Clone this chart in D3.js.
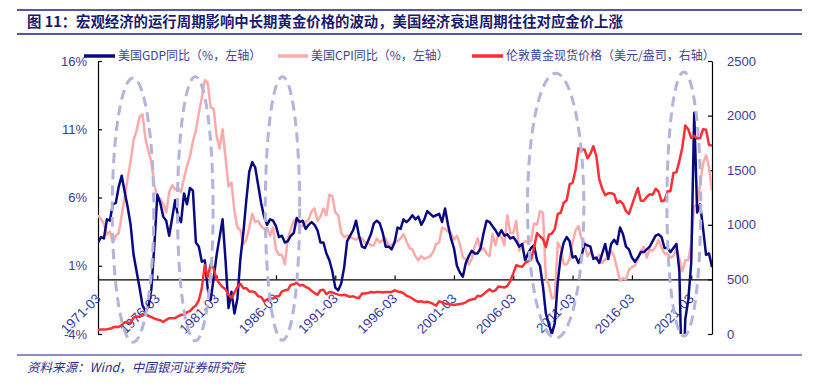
<!DOCTYPE html>
<html>
<head>
<meta charset="utf-8">
<script src="https://cdn.jsdelivr.net/npm/d3@7"></script>
<style>
  body { margin: 0; background: #fff; }
  svg { display: block; font-family: "Liberation Sans", Arial, sans-serif; }
</style>
</head>
<body>
<div id="chart"></div>
<script>
// quarterly data, 1971Q1 .. 2022Q4
const startYear = 1971;

// US real GDP YoY, %
const gdp = [
  2.7, 3.1, 3.0, 4.4,  4.3, 5.5, 5.6, 6.8,  7.6, 6.4, 5.3, 4.0,  1.8, 0.6, -0.6, -1.9,
  -2.3, -2.0, -0.7, 2.5,  6.2, 5.6, 4.6, 4.3,  3.2, 4.5, 5.8, 4.6,  4.2, 6.3, 5.5, 6.7,
  6.5, 2.7, 2.4, 1.3,  1.4, -0.7, -1.5, 0.1,  1.8, 3.1, 4.4, 1.4,  -2.1, -0.9, -2.5, -1.4,
  1.5, 3.4, 5.8, 7.9,  8.6, 8.2, 6.9, 5.6,  4.6, 4.0, 4.4, 4.3,  3.9, 3.1, 3.2, 2.7,
  2.8, 3.2, 3.4, 4.5,  4.2, 4.3, 3.7, 4.0,  4.2, 4.0, 3.6, 2.7,  2.7, 1.9, 1.4, 0.6,
  -0.6, -0.8, -0.3, 0.9,  2.8, 3.2, 3.6, 4.3,  3.2, 2.4, 2.3, 2.8,  3.3, 4.1, 4.3, 4.1,
  3.4, 2.4, 2.4, 2.2,  2.7, 3.8, 3.7, 4.4,  4.2, 4.4, 4.7, 4.4,  4.6, 4.0, 4.4, 5.0,
  4.8, 4.6, 4.7, 4.8,  4.2, 5.2, 4.0, 3.0,  2.3, 1.0, 0.5, 0.2,  1.2, 1.7, 2.1, 1.9,
  1.9, 2.3, 3.4, 4.3,  4.2, 3.9, 3.6, 3.2,  3.6, 3.2, 3.3, 3.0,  3.1, 2.8, 2.4, 2.6,
  1.4, 1.9, 2.3, 2.5,  1.4, 1.0, -0.5, -2.5,  -3.3, -4.0, -3.2, -0.2,  1.7, 2.7, 3.1, 2.8,
  1.6, 1.7, 1.2, 1.7,  2.6, 2.5, 2.4, 1.5,  1.6, 1.2, 1.9, 2.6,  1.5, 2.6, 2.9, 2.6,
  3.8, 3.3, 2.4, 2.2,  1.6, 1.3, 1.6, 2.0,  2.0, 2.2, 2.4, 2.8,  3.2, 3.3, 3.1, 2.3,
  2.3, 2.0, 2.3, 2.6,  0.6, -9.1, -2.9, -1.5,  1.2, 12.2, 4.9, 5.5,  3.7, 1.8, 1.9, 0.9
];

// US CPI YoY, %
const cpi = [
  4.7, 4.4, 4.1, 3.3,  3.5, 2.7, 3.2, 3.4,  4.7, 6.0, 7.4, 8.7,  10.2, 10.9, 11.9, 12.1,
  10.3, 9.4, 8.6, 6.9,  6.1, 5.9, 5.5, 4.9,  6.4, 6.9, 6.6, 6.7,  6.4, 7.4, 8.3, 9.0,
  10.1, 10.9, 12.2, 13.3,  14.6, 14.4, 12.6, 12.5,  10.5, 9.6, 11.0, 8.9,  6.8, 7.1, 5.0, 3.8,
  3.6, 2.6, 2.9, 3.8,  4.8, 4.2, 4.3, 3.9,  3.7, 3.8, 3.2, 3.8,  2.2, 1.8, 1.8, 1.1,
  3.0, 3.7, 4.3, 4.4,  3.9, 3.9, 4.2, 4.4,  5.0, 5.2, 4.3, 4.6,  5.2, 4.7, 6.2, 6.1,
  4.9, 4.7, 3.4, 3.1,  3.2, 3.1, 3.0, 2.9,  3.1, 3.0, 2.7, 2.7,  2.5, 2.5, 3.0, 2.7,
  2.9, 3.0, 2.5, 2.5,  2.8, 2.8, 3.0, 3.3,  2.8, 2.3, 2.2, 1.7,  1.4, 1.7, 1.5, 1.6,
  1.7, 2.0, 2.6, 2.7,  3.8, 3.7, 3.5, 3.4,  2.9, 3.2, 2.6, 1.6,  1.5, 1.1, 1.5, 2.4,
  3.0, 2.1, 2.3, 1.9,  1.7, 3.3, 2.5, 3.3,  3.1, 2.5, 4.7, 3.4,  3.4, 4.3, 2.1, 2.5,
  2.8, 2.7, 2.8, 4.1,  4.0, 5.0, 4.9, 0.1,  -0.4, -1.4, -1.3, 2.7,  2.3, 1.1, 1.1, 1.5,
  2.7, 3.6, 3.9, 3.0,  2.7, 1.7, 2.0, 1.7,  1.5, 1.8, 1.2, 1.5,  1.5, 2.1, 1.7, 0.8,
  -0.1, 0.1, 0.0, 0.7,  0.9, 1.0, 1.5, 2.1,  2.4, 1.6, 2.2, 2.1,  2.4, 2.9, 2.3, 1.9,
  1.9, 1.6, 1.7, 2.3,  1.5, 0.6, 1.4, 1.4,  2.6, 5.4, 5.4, 7.0,  8.5, 9.1, 8.2, 6.5
];

// London gold spot, USD/oz
const gold = [
  38.9, 40.1, 41.9, 43.0,  47.5, 59.5, 66, 63.9,  81, 108, 106, 100,  150, 160, 155, 183,
  178, 167, 155, 143,  132, 126, 110, 130,  145, 145, 147, 161,  176, 176, 200, 210,
  240, 260, 310, 420,  630, 520, 640, 600,  500, 460, 430, 410,  360, 330, 380, 430,
  460, 420, 420, 390,  390, 380, 345, 340,  300, 316, 325, 325,  345, 345, 390, 400,
  405, 450, 455, 470,  445, 450, 430, 420,  395, 375, 360, 400,  405, 365, 385, 380,
  370, 360, 355, 360,  350, 340, 345, 335,  330, 370, 370, 375,  385, 380, 385, 385,
  380, 385, 385, 385,  400, 390, 385, 375,  350, 340, 325, 305,  295, 300, 290, 295,
  287, 275, 260, 300,  290, 280, 275, 270,  265, 270, 275, 280,  290, 310, 315, 320,
  350, 345, 365, 390,  410, 390, 400, 435,  430, 425, 440, 485,  555, 630, 620, 615,
  650, 665, 680, 790,  925, 895, 870, 795,  910, 920, 960, 1100,  1110, 1200, 1225, 1370,
  1385, 1505, 1700, 1690,  1690, 1610, 1650, 1720,  1630, 1415, 1330, 1270,  1290, 1290, 1280, 1200,
  1220, 1190, 1125, 1100,  1180, 1260, 1335, 1220,  1220, 1255, 1280, 1275,  1330, 1305, 1215, 1225,
  1305, 1310, 1475, 1480,  1585, 1710, 1910, 1875,  1795, 1815, 1790, 1795,  1875, 1870, 1730, 1725
];

const leftTicks = [-4, 1, 6, 11, 16];
const rightTicks = [0, 500, 1000, 1500, 2000, 2500];
const yearTicks = [1971, 1976, 1981, 1986, 1991, 1996, 2001, 2006, 2011, 2016, 2021];

// dashed recession ellipses: year span and left-axis value span
const recessions = [
  { from: 1972.2, to: 1975.7, top: 14.75, bottom: -4.6 },
  { from: 1977.7, to: 1980.7, top: 14.85, bottom: -4.5 },
  { from: 1985.1, to: 1988.0, top: 14.85, bottom: -4.45 },
  { from: 2007.2, to: 2011.95, top: 15.1, bottom: -4.3 },
  { from: 2018.95, to: 2021.8, top: 15.2, bottom: -4.15 }
];

const W = 817, H = 391;
const plot = { left: 98, right: 712, top: 61, bottom: 334 };
const navy = "#0a0a80", pink = "#ffaaaa", red = "#fa3035";
const labelColor = "#3b3b98";

const svg = d3.select("#chart").append("svg").attr("width", W).attr("height", H);

// header
svg.append("line").attr("x1", 17).attr("x2", 802).attr("y1", 10).attr("y2", 10)
  .attr("stroke", "#1e1e8a").attr("stroke-width", 1.5);
svg.append("line").attr("x1", 17).attr("x2", 802).attr("y1", 34).attr("y2", 34)
  .attr("stroke", "#1e1e8a").attr("stroke-width", 1.5);
svg.append("text")
  .attr("x", 27).attr("y", 27)
  .attr("font-family", "'Noto Sans CJK SC', sans-serif")
  .attr("font-size", "14.4px").attr("font-weight", "bold").attr("fill", "#1a1a6e")
  .text("图 11：宏观经济的运行周期影响中长期黄金价格的波动，美国经济衰退周期往往对应金价上涨");

// footer
svg.append("line").attr("x1", 17).attr("x2", 802).attr("y1", 355).attr("y2", 355)
  .attr("stroke", "#1e1e8a").attr("stroke-width", 1.2);
svg.append("text")
  .attr("x", 27).attr("y", 372)
  .attr("font-family", "'Noto Sans CJK SC', sans-serif")
  .attr("font-size", "12.5px").attr("font-style", "italic").attr("fill", "#2e2e8a")
  .text("资料来源：Wind，中国银河证券研究院");

const x = d3.scaleLinear().domain([startYear, 2022.75]).range([plot.left, plot.right]);
const yL = d3.scaleLinear().domain([-4, 16]).range([plot.bottom, plot.top]);
const yR = d3.scaleLinear().domain([0, 2500]).range([plot.bottom, plot.top]);

const t = (i) => startYear + i / 4;

svg.append("defs").append("clipPath").attr("id", "plot-clip")
  .append("rect")
  .attr("x", plot.left).attr("y", plot.top)
  .attr("width", plot.right - plot.left).attr("height", plot.bottom - plot.top);

// axes
const styleAxis = (g) => {
  g.select(".domain").attr("stroke", "#000").attr("stroke-width", 1.2);
  g.selectAll(".tick line").attr("stroke", "#000").attr("stroke-width", 1.2);
  g.selectAll(".tick text").attr("fill", labelColor).attr("font-size", "13px");
};

svg.append("g")
  .attr("transform", `translate(${plot.left},0)`)
  .call(d3.axisLeft(yL).tickValues(leftTicks).tickSize(-4).tickSizeOuter(0).tickPadding(11).tickFormat((d) => d + "%"))
  .call(styleAxis);

svg.append("g")
  .attr("transform", `translate(${plot.right},0)`)
  .call(d3.axisRight(yR).tickValues(rightTicks).tickSize(-4).tickSizeOuter(0).tickPadding(15).tickFormat(d3.format("d")))
  .call(styleAxis);

const xAxis = svg.append("g")
  .attr("transform", `translate(0,${yL(0)})`)
  .call(d3.axisBottom(x).tickValues(yearTicks).tickSize(-4).tickSizeOuter(0).tickFormat((d) => d + "-03"))
  .call(styleAxis);
xAxis.selectAll(".tick text")
  .attr("font-size", "13.5px")
  .attr("text-anchor", "end")
  .attr("x", 0).attr("y", 0).attr("dy", 0)
  .attr("transform", "translate(3,20) rotate(-45)");

// series
const plotArea = svg.append("g").attr("clip-path", "url(#plot-clip)");

const lineL = (vals) => d3.line().x((d, i) => x(t(i))).y((d) => yL(d))(vals);
const lineR = (vals) => d3.line().x((d, i) => x(t(i))).y((d) => yR(d))(vals);

plotArea.append("path").attr("d", lineL(cpi))
  .attr("fill", "none").attr("stroke", pink).attr("stroke-width", 2.5).attr("stroke-linejoin", "round");
plotArea.append("path").attr("d", lineL(gdp))
  .attr("fill", "none").attr("stroke", navy).attr("stroke-width", 2.5).attr("stroke-linejoin", "round");
plotArea.append("path").attr("d", lineR(gold))
  .attr("fill", "none").attr("stroke", red).attr("stroke-width", 2.5).attr("stroke-linejoin", "round");

// recession ellipses
svg.append("g").selectAll("ellipse")
  .data(recessions)
  .join("ellipse")
  .attr("cx", (d) => (x(d.from) + x(d.to)) / 2)
  .attr("cy", (d) => (yL(d.top) + yL(d.bottom)) / 2)
  .attr("rx", (d) => (x(d.to) - x(d.from)) / 2)
  .attr("ry", (d) => (yL(d.bottom) - yL(d.top)) / 2)
  .attr("fill", "none")
  .attr("stroke", "#b3b3db")
  .attr("stroke-width", 3)
  .attr("stroke-dasharray", "10,6");

// legend
const legendItems = [
  { label: "美国GDP同比（%，左轴）", color: navy, x: 84, w: 31 },
  { label: "美国CPI同比（%，左轴）", color: pink, x: 278, w: 30 },
  { label: "伦敦黄金现货价格（美元/盎司，右轴）", color: red, x: 472, w: 31 }
];
const legend = svg.append("g").attr("transform", "translate(0,56)");
legendItems.forEach((it) => {
  legend.append("line")
    .attr("x1", it.x).attr("x2", it.x + it.w).attr("y1", 0).attr("y2", 0)
    .attr("stroke", it.color).attr("stroke-width", 3.5);
  legend.append("text")
    .attr("x", it.x + it.w + 3).attr("y", 0).attr("dy", "0.36em")
    .attr("font-family", "'Noto Sans CJK SC', sans-serif")
    .attr("font-size", "12px").attr("fill", "#3f3f96")
    .text(it.label);
});
</script>
</body>
</html>
